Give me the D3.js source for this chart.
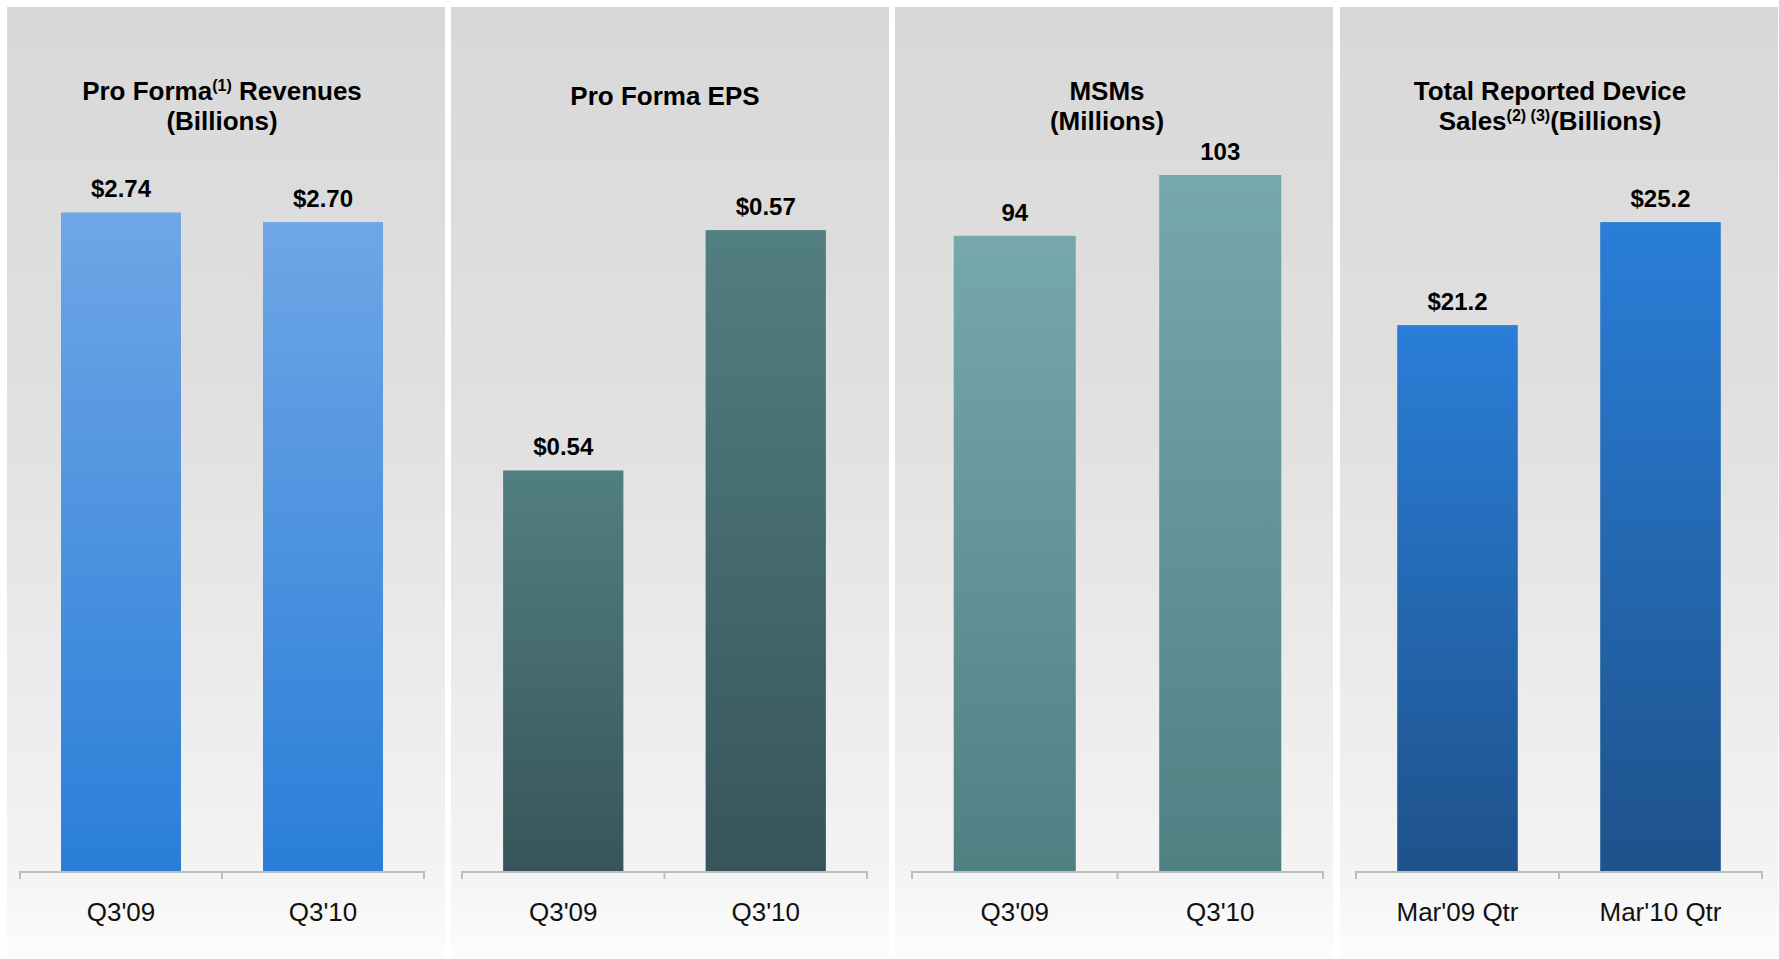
<!DOCTYPE html>
<html>
<head>
<meta charset="utf-8">
<script src="https://cdn.jsdelivr.net/npm/d3@7"></script>
<style>
  body { margin: 0; background: #fff; }
  svg { display: block; font-family: "Liberation Sans", Arial, sans-serif; }
</style>
</head>
<body>
<svg id="chart" width="1779" height="959"></svg>
<script>
'use strict';

// data
var revenueCats = ["Q3'09", "Q3'10"];
var revenueValues = [2.74, 2.70];

var epsCats = ["Q3'09", "Q3'10"];
var epsValues = [0.54, 0.57];

var msmCats = ["Q3'09", "Q3'10"];
var msmValues = [94, 103];

var deviceCats = ["Mar'09 Qtr", "Mar'10 Qtr"];
var deviceValues = [21.2, 25.2];

// one entry per panel; title parts flagged with sup:true are footnote marks
var panels = [
	{cats: revenueCats, values: revenueValues, fmt: d3.format("$.2f"), domain: [0, 3],
	 title: [[{t: "Pro Forma"}, {t: "(1)", sup: true}, {t: " Revenues"}], [{t: "(Billions)"}]],
	 colors: ["#6fa6e6", "#2a7ed8"], titleX: 215},
	{cats: epsCats, values: epsValues, fmt: d3.format("$.2f"), domain: [0.49, 0.58],
	 title: [[{t: "Pro Forma EPS"}]],
	 colors: ["#527f82", "#37555a"], titleX: 214},
	{cats: msmCats, values: msmValues, fmt: d3.format("d"), domain: [0, 106.7],
	 title: [[{t: "MSMs"}], [{t: "(Millions)"}]],
	 colors: ["#77a8ab", "#518083"], titleX: 212},
	{cats: deviceCats, values: deviceValues, fmt: d3.format("$.1f"), domain: [0, 28],
	 title: [[{t: "Total Reported Device"}], [{t: "Sales"}, {t: "(2) (3)", sup: true}, {t: "(Billions)"}]],
	 colors: ["#2a7ed8", "#1e528b"], titleX: 210}
];

var panelLeft = [7, 451, 895, 1340],
	panelWidth = 438,
	panelTop = 7,
	panelBottom = 957,
	axisLeft = [13, 11, 17, 16],
	axisRight = [417, 416, 428, 422],
	baseY = 871,
	plotTop = 150;

var svg = d3.select("#chart");
var defs = svg.append("defs");

var bg = defs.append("linearGradient").attr("id", "panelBg")
	.attr("x1", 0).attr("y1", 0).attr("x2", 0).attr("y2", 1);
bg.append("stop").attr("offset", 0).attr("stop-color", "#d8d8d8");
bg.append("stop").attr("offset", 0.45).attr("stop-color", "#e1e1e1");
bg.append("stop").attr("offset", 0.9).attr("stop-color", "#f3f3f3");
bg.append("stop").attr("offset", 1).attr("stop-color", "#fcfcfc");

panels.forEach(function(p, i){
	var grad = defs.append("linearGradient").attr("id", "bar" + i)
		.attr("x1", 0).attr("y1", 0).attr("x2", 0).attr("y2", 1);
	grad.append("stop").attr("offset", 0).attr("stop-color", p.colors[0]);
	grad.append("stop").attr("offset", 1).attr("stop-color", p.colors[1]);

	var g = svg.append("g").attr("transform", "translate(" + panelLeft[i] + ",0)");

	g.append("rect")
		.attr("x", 0).attr("y", panelTop)
		.attr("width", panelWidth).attr("height", panelBottom - panelTop)
		.attr("fill", "url(#panelBg)");

	var x = d3.scaleBand().domain(p.cats).range([axisLeft[i], axisRight[i]]).padding(0),
		y = d3.scaleLinear().domain(p.domain).range([baseY, plotTop]);
	var barW = x.bandwidth() * 0.594;

	// title, one text per line
	var lines = p.title.length == 1 ? [105] : [100, 130];
	p.title.forEach(function(parts, li){
		var t = g.append("text")
			.attr("x", p.titleX).attr("y", lines[li])
			.attr("text-anchor", "middle")
			.attr("font-weight", "bold")
			.attr("font-size", 26)
			.attr("fill", "#000");
		var back = 0;
		parts.forEach(function(s){
			var ts = t.append("tspan").text(s.t);
			if(s.sup){
				ts.attr("font-size", 16).attr("dy", -9);
				back = 9;
			}else if(back){
				ts.attr("dy", back);
				back = 0;
			}
		});
	});

	// bars
	g.selectAll(".bar")
		.data(p.values)
		.enter().append("rect")
		.attr("class", "bar")
		.attr("x", function(d, k){ return x(p.cats[k]) + (x.bandwidth() - barW) / 2; })
		.attr("y", function(d){ return y(d); })
		.attr("width", barW)
		.attr("height", function(d){ return baseY - y(d); })
		.attr("fill", "url(#bar" + i + ")");

	// value labels
	g.selectAll(".val")
		.data(p.values)
		.enter().append("text")
		.attr("class", "val")
		.attr("x", function(d, k){ return x(p.cats[k]) + x.bandwidth() / 2; })
		.attr("y", function(d){ return y(d) - 15; })
		.attr("text-anchor", "middle")
		.attr("font-weight", "bold")
		.attr("font-size", 24)
		.attr("fill", "#000")
		.text(function(d){ return p.fmt(d); });

	// category axis, ticks sit between the bands
	var x0 = axisLeft[i], x1 = axisRight[i];
	g.append("path")
		.attr("d", "M" + x0 + "," + (baseY + 8) + "V" + (baseY + 1) + "H" + x1 + "V" + (baseY + 8)
			+ "M" + x(p.cats[1]) + "," + (baseY + 1) + "V" + (baseY + 8))
		.attr("fill", "none")
		.attr("stroke", "#bdbdbd")
		.attr("stroke-width", 2);

	g.selectAll(".cat")
		.data(p.cats)
		.enter().append("text")
		.attr("class", "cat")
		.attr("x", function(d){ return x(d) + x.bandwidth() / 2; })
		.attr("y", 921)
		.attr("text-anchor", "middle")
		.attr("font-size", 26)
		.attr("fill", "#111")
		.text(function(d){ return d; });
});
</script>
</body>
</html>
